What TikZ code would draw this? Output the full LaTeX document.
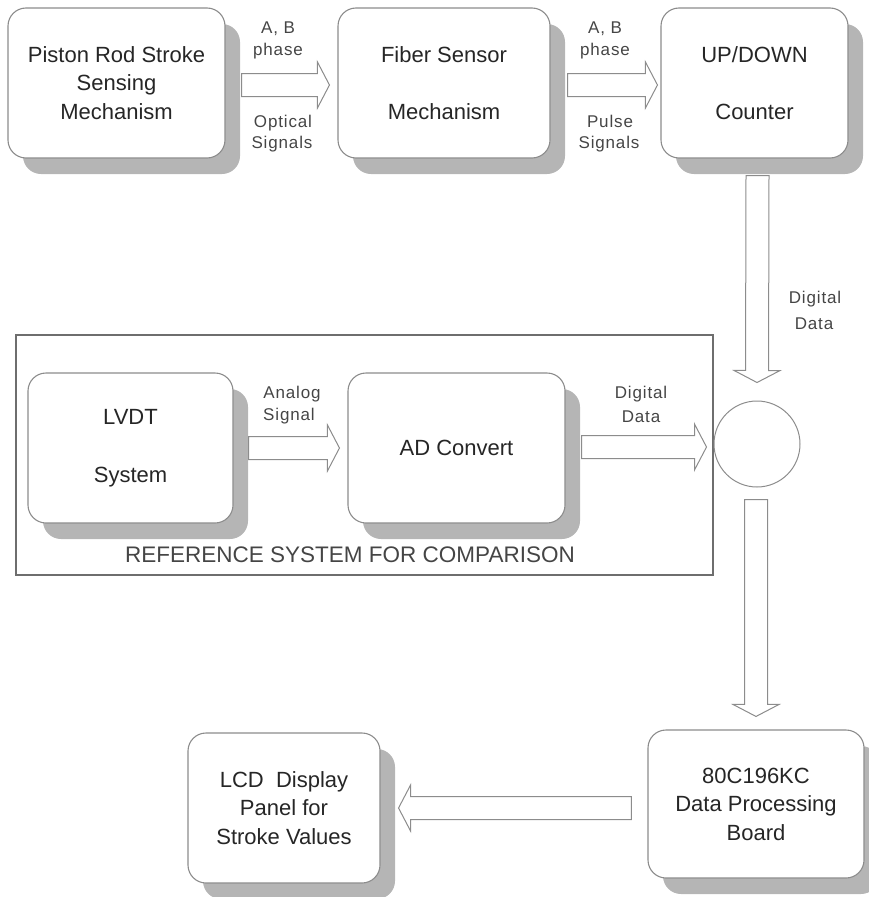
\documentclass[tikz,border=0pt]{standalone}
\usepackage{fontspec}
\setmainfont{Liberation Sans}
\usetikzlibrary{calc,shadows}

\definecolor{edgegray}{HTML}{8C8C8C}
\definecolor{shadegray}{HTML}{B5B5B5}
\definecolor{inkgray}{HTML}{262626}
\definecolor{labelgray}{HTML}{454545}
\definecolor{framegray}{HTML}{6E6E6E}

\newcommand\boxfont{\fontsize{22bp}{28.5bp}\selectfont}
\newcommand\tagfont{\fontsize{17bp}{21bp}\selectfont\addfontfeatures{LetterSpace=5}}
\newcommand\titlefont{\fontsize{22.5bp}{27bp}\selectfont}

\begin{document}
\begin{tikzpicture}[x=1bp,y=-1bp,
  block/.style={draw=edgegray, line width=1.1bp, fill=white, rounded corners=18bp,
    align=center, inner sep=0pt, font=\boxfont, text=inkgray,
    drop shadow={shadow xshift=15bp, shadow yshift=-16bp, fill=shadegray, opacity=1}},
  tag/.style={font=\tagfont, text=labelgray, anchor=base, inner sep=0pt},
  % hollow block arrow from the start point to the tip
  blockarrow/.style={draw=edgegray, line width=1bp, fill=white,
    to path={
      ($(\tikztostart)!11.5bp!90:(\tikztotarget)$)
      -- ($(\tikztotarget)!12bp!(\tikztostart)!11.5bp!90:(\tikztotarget)$)
      -- ($(\tikztotarget)!12bp!(\tikztostart)!23bp!90:(\tikztotarget)$)
      -- (\tikztotarget)
      -- ($(\tikztotarget)!12bp!(\tikztostart)!23bp!-90:(\tikztotarget)$)
      -- ($(\tikztotarget)!12bp!(\tikztostart)!11.5bp!-90:(\tikztotarget)$)
      -- ($(\tikztostart)!11.5bp!-90:(\tikztotarget)$)
      -- cycle}}]
\useasboundingbox (0,0) rectangle (869,897);

% frame around the reference branch
\node[draw=framegray, line width=1.4bp, minimum width=697bp, minimum height=240bp,
  inner sep=0pt] (refbox) at (364.5,455) {};
\node[font=\titlefont, text=labelgray, anchor=base, inner sep=0pt] (reftitle)
  at (350,562) {REFERENCE SYSTEM FOR COMPARISON};

% blocks
\node[block, minimum width=217bp, minimum height=150bp] (pr) at (116.5,83)
  {Piston Rod Stroke\\Sensing\\Mechanism};
\node[block, minimum width=212bp, minimum height=150bp] (fs) at (444,83)
  {Fiber Sensor\\[28.5bp]Mechanism};
\node[block, minimum width=187bp, minimum height=150bp] (ud) at (754.5,83)
  {UP/DOWN\\[28.5bp]Counter};
\node[block, minimum width=205bp, minimum height=150bp] (lv) at (130.5,448)
  {LVDT\\[30bp]System};
\node[block, minimum width=217bp, minimum height=150bp] (ad) at (456.5,448)
  {AD Convert};
\node[block, minimum width=192bp, minimum height=150bp] (lcd) at (284,808)
  {LCD~~Display\\Panel for\\Stroke Values};
\node[block, minimum width=216bp, minimum height=148bp] (bd) at (756,804)
  {80C196KC\\Data Processing\\Board};
\node[draw=edgegray, line width=1bp, circle, minimum size=86bp, inner sep=0pt]
  (sum) at (757,444) {};

% arrow end points
\coordinate (a1s) at ($(pr.east)+(16,2)$);
\coordinate (a1t) at ($(fs.west)+(-8,2)$);
\coordinate (a2s) at ($(fs.east)+(17,2)$);
\coordinate (a2t) at ($(ud.west)+(-3,2)$);
\coordinate (a3s) at ($(lv.east)+(15,0)$);
\coordinate (a3t) at ($(ad.west)+(-8,0)$);
\coordinate (a4s) at ($(ad.east)+(16,-1)$);
\coordinate (a4t) at ($(sum.west)+(-7,3)$);
\coordinate (a5s) at ($(ud.south)+(3,17)$);
\coordinate (a5t) at ($(sum.north)+(0,-18)$);
\coordinate (a6s) at ($(sum.south)+(-1,12)$);
\coordinate (a6t) at ($(bd.north)+(0,-13)$);
\coordinate (a7s) at ($(bd.west)+(-16,4)$);
\coordinate (a7t) at ($(lcd.east)+(18,0)$);

% signal flow
\draw[blockarrow] (a1s) to (a1t);
\draw[blockarrow] (a2s) to (a2t);
\draw[blockarrow] (a3s) to (a3t);
\draw[blockarrow] (a4s) to (a4t);
\draw[blockarrow] (a5s) to (a5t);
\draw[blockarrow] (a6s) to (a6t);
\draw[blockarrow] (a7s) to (a7t);

% arrow labels
\node[tag] (l1a) at (278,33) {A, B};
\node[tag] (l1b) at (278,55) {phase};
\node[tag] (l1c) at (283,127) {Optical};
\node[tag] (l1d) at (282,148) {Signals};
\node[tag] (l2a) at (605,33) {A, B};
\node[tag] (l2b) at (605,55) {phase};
\node[tag] (l2c) at (610,127) {Pulse};
\node[tag] (l2d) at (609,148) {Signals};
\node[tag] (l3a) at (292,398) {Analog};
\node[tag] (l3b) at (289,420) {Signal};
\node[tag] (l4a) at (641,398) {Digital};
\node[tag] (l4b) at (641,422) {Data};
\node[tag] (l5a) at (815,303) {Digital};
\node[tag] (l5b) at (814,329) {Data};
\end{tikzpicture}
\end{document}
